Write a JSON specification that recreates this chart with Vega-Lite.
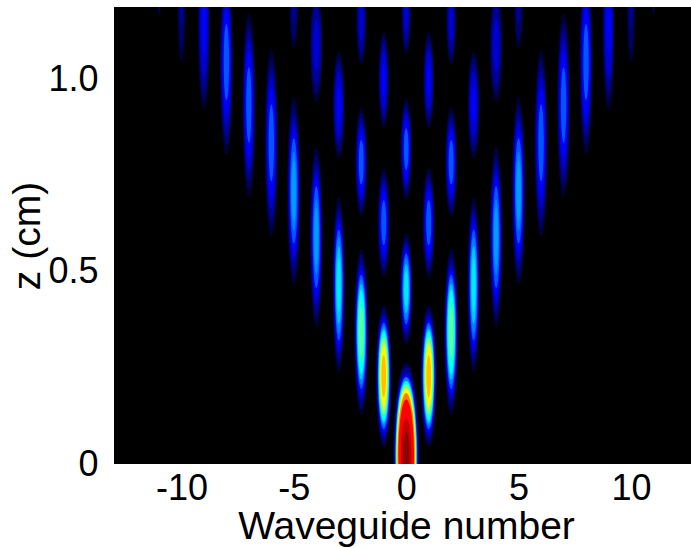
{"$schema":"https://vega.github.io/schema/vega-lite/v6.json","autosize":"none","width":577,"height":457,"padding":{"left":114,"top":7,"right":0,"bottom":84},"background":"white","view":{"fill":"black","stroke":null},
"data":{"values":[
{"w":0,"z":0.023,"i":0.03,"l":0.484,"s":"d"},{"w":0,"z":0.023,"i":0.06,"l":0.469,"s":"d"},{"w":0,"z":0.023,"i":0.1,"l":0.455,"s":"d"},{"w":0,"z":0.023,"i":0.2,"l":0.426,"s":"d"},{"w":0,"z":0.023,"i":0.3,"l":0.407,"s":"d"},{"w":0,"z":0.023,"i":0.4,"l":0.387,"s":"d"},{"w":0,"z":0.023,"i":0.5,"l":0.368,"s":"d"},{"w":0,"z":0.023,"i":0.6,"l":0.348,"s":"d"},{"w":0,"z":0.023,"i":0.7,"l":0.324,"s":"d"},{"w":0,"z":0.023,"i":0.8,"l":0.29,"s":"d"},{"w":0,"z":0.023,"i":0.9,"l":0.194,"s":"d"},{"w":0,"z":0.023,"i":1,"l":0.121,"s":"d"},
{"w":0,"z":0.456,"i":0.03,"l":0.292,"s":"a"},{"w":0,"z":0.456,"i":0.06,"l":0.269,"s":"a"},{"w":0,"z":0.456,"i":0.1,"l":0.248,"s":"a"},{"w":0,"z":0.456,"i":0.15,"l":0.228,"s":"a"},{"w":0,"z":0.456,"i":0.2,"l":0.204,"s":"a"},{"w":0,"z":0.456,"i":0.25,"l":0.184,"s":"a"},{"w":0,"z":0.456,"i":0.3,"l":0.161,"s":"a"},{"w":0,"z":0.456,"i":0.35,"l":0.128,"s":"a"},{"w":0,"z":0.456,"i":0.38,"l":0.091,"s":"a"},
{"w":0,"z":0.82,"i":0.03,"l":0.266,"s":"a"},{"w":0,"z":0.82,"i":0.06,"l":0.239,"s":"a"},{"w":0,"z":0.82,"i":0.1,"l":0.215,"s":"a"},{"w":0,"z":0.82,"i":0.15,"l":0.186,"s":"a"},{"w":0,"z":0.82,"i":0.2,"l":0.154,"s":"a"},{"w":0,"z":0.82,"i":0.25,"l":0.109,"s":"a"},
{"w":0,"z":1.177,"i":0.03,"l":0.221,"s":"a"},{"w":0,"z":1.177,"i":0.06,"l":0.192,"s":"a"},{"w":0,"z":1.177,"i":0.1,"l":0.159,"s":"a"},{"w":0,"z":1.177,"i":0.15,"l":0.102,"s":"a"},
{"w":-1,"z":0.229,"i":0.03,"l":0.37,"s":"a"},{"w":-1,"z":0.229,"i":0.06,"l":0.352,"s":"a"},{"w":-1,"z":0.229,"i":0.1,"l":0.329,"s":"a"},{"w":-1,"z":0.229,"i":0.15,"l":0.311,"s":"a"},{"w":-1,"z":0.229,"i":0.2,"l":0.292,"s":"a"},{"w":-1,"z":0.229,"i":0.25,"l":0.278,"s":"a"},{"w":-1,"z":0.229,"i":0.3,"l":0.263,"s":"a"},{"w":-1,"z":0.229,"i":0.35,"l":0.248,"s":"a"},{"w":-1,"z":0.229,"i":0.4,"l":0.233,"s":"a"},{"w":-1,"z":0.229,"i":0.45,"l":0.218,"s":"a"},{"w":-1,"z":0.229,"i":0.5,"l":0.2,"s":"a"},{"w":-1,"z":0.229,"i":0.55,"l":0.181,"s":"a"},{"w":-1,"z":0.229,"i":0.6,"l":0.155,"s":"a"},{"w":-1,"z":0.229,"i":0.65,"l":0.111,"s":"a"},
{"w":1,"z":0.229,"i":0.03,"l":0.37,"s":"a"},{"w":1,"z":0.229,"i":0.06,"l":0.352,"s":"a"},{"w":1,"z":0.229,"i":0.1,"l":0.329,"s":"a"},{"w":1,"z":0.229,"i":0.15,"l":0.311,"s":"a"},{"w":1,"z":0.229,"i":0.2,"l":0.292,"s":"a"},{"w":1,"z":0.229,"i":0.25,"l":0.278,"s":"a"},{"w":1,"z":0.229,"i":0.3,"l":0.263,"s":"a"},{"w":1,"z":0.229,"i":0.35,"l":0.248,"s":"a"},{"w":1,"z":0.229,"i":0.4,"l":0.233,"s":"a"},{"w":1,"z":0.229,"i":0.45,"l":0.218,"s":"a"},{"w":1,"z":0.229,"i":0.5,"l":0.2,"s":"a"},{"w":1,"z":0.229,"i":0.55,"l":0.181,"s":"a"},{"w":1,"z":0.229,"i":0.6,"l":0.155,"s":"a"},{"w":1,"z":0.229,"i":0.65,"l":0.111,"s":"a"},
{"w":-1,"z":0.628,"i":0.03,"l":0.286,"s":"a"},{"w":-1,"z":0.628,"i":0.06,"l":0.257,"s":"a"},{"w":-1,"z":0.628,"i":0.1,"l":0.232,"s":"a"},{"w":-1,"z":0.628,"i":0.15,"l":0.2,"s":"a"},{"w":-1,"z":0.628,"i":0.2,"l":0.166,"s":"a"},{"w":-1,"z":0.628,"i":0.25,"l":0.117,"s":"a"},
{"w":1,"z":0.628,"i":0.03,"l":0.286,"s":"a"},{"w":1,"z":0.628,"i":0.06,"l":0.257,"s":"a"},{"w":1,"z":0.628,"i":0.1,"l":0.232,"s":"a"},{"w":1,"z":0.628,"i":0.15,"l":0.2,"s":"a"},{"w":1,"z":0.628,"i":0.2,"l":0.166,"s":"a"},{"w":1,"z":0.628,"i":0.25,"l":0.117,"s":"a"},
{"w":-1,"z":1,"i":0.03,"l":0.25,"s":"a"},{"w":-1,"z":1,"i":0.06,"l":0.222,"s":"a"},{"w":-1,"z":1,"i":0.1,"l":0.193,"s":"a"},{"w":-1,"z":1,"i":0.15,"l":0.155,"s":"a"},{"w":-1,"z":1,"i":0.2,"l":0.085,"s":"a"},
{"w":1,"z":1,"i":0.03,"l":0.25,"s":"a"},{"w":1,"z":1,"i":0.06,"l":0.222,"s":"a"},{"w":1,"z":1,"i":0.1,"l":0.193,"s":"a"},{"w":1,"z":1,"i":0.15,"l":0.155,"s":"a"},{"w":1,"z":1,"i":0.2,"l":0.085,"s":"a"},
{"w":-2,"z":0.344,"i":0.03,"l":0.43,"s":"c"},{"w":-2,"z":0.344,"i":0.06,"l":0.404,"s":"c"},{"w":-2,"z":0.344,"i":0.1,"l":0.374,"s":"c"},{"w":-2,"z":0.344,"i":0.15,"l":0.348,"s":"c"},{"w":-2,"z":0.344,"i":0.2,"l":0.323,"s":"c"},{"w":-2,"z":0.344,"i":0.25,"l":0.297,"s":"c"},{"w":-2,"z":0.344,"i":0.3,"l":0.275,"s":"c"},{"w":-2,"z":0.344,"i":0.35,"l":0.249,"s":"c"},{"w":-2,"z":0.344,"i":0.4,"l":0.219,"s":"c"},{"w":-2,"z":0.344,"i":0.45,"l":0.176,"s":"c"},{"w":-2,"z":0.344,"i":0.48,"l":0.129,"s":"c"},
{"w":2,"z":0.344,"i":0.03,"l":0.43,"s":"c"},{"w":2,"z":0.344,"i":0.06,"l":0.404,"s":"c"},{"w":2,"z":0.344,"i":0.1,"l":0.374,"s":"c"},{"w":2,"z":0.344,"i":0.15,"l":0.348,"s":"c"},{"w":2,"z":0.344,"i":0.2,"l":0.323,"s":"c"},{"w":2,"z":0.344,"i":0.25,"l":0.297,"s":"c"},{"w":2,"z":0.344,"i":0.3,"l":0.275,"s":"c"},{"w":2,"z":0.344,"i":0.35,"l":0.249,"s":"c"},{"w":2,"z":0.344,"i":0.4,"l":0.219,"s":"c"},{"w":2,"z":0.344,"i":0.45,"l":0.176,"s":"c"},{"w":2,"z":0.344,"i":0.48,"l":0.129,"s":"c"},
{"w":-2,"z":0.786,"i":0.03,"l":0.284,"s":"a"},{"w":-2,"z":0.786,"i":0.06,"l":0.256,"s":"a"},{"w":-2,"z":0.786,"i":0.1,"l":0.23,"s":"a"},{"w":-2,"z":0.786,"i":0.15,"l":0.199,"s":"a"},{"w":-2,"z":0.786,"i":0.2,"l":0.165,"s":"a"},{"w":-2,"z":0.786,"i":0.25,"l":0.116,"s":"a"},
{"w":2,"z":0.786,"i":0.03,"l":0.284,"s":"a"},{"w":2,"z":0.786,"i":0.06,"l":0.256,"s":"a"},{"w":2,"z":0.786,"i":0.1,"l":0.23,"s":"a"},{"w":2,"z":0.786,"i":0.15,"l":0.199,"s":"a"},{"w":2,"z":0.786,"i":0.2,"l":0.165,"s":"a"},{"w":2,"z":0.786,"i":0.25,"l":0.116,"s":"a"},
{"w":-2,"z":1.156,"i":0.03,"l":0.234,"s":"a"},{"w":-2,"z":1.156,"i":0.06,"l":0.204,"s":"a"},{"w":-2,"z":1.156,"i":0.1,"l":0.168,"s":"a"},{"w":-2,"z":1.156,"i":0.15,"l":0.108,"s":"a"},
{"w":2,"z":1.156,"i":0.03,"l":0.234,"s":"a"},{"w":2,"z":1.156,"i":0.06,"l":0.204,"s":"a"},{"w":2,"z":1.156,"i":0.1,"l":0.168,"s":"a"},{"w":2,"z":1.156,"i":0.15,"l":0.108,"s":"a"},
{"w":-3,"z":0.466,"i":0.03,"l":0.458,"s":"b"},{"w":-3,"z":0.466,"i":0.06,"l":0.421,"s":"b"},{"w":-3,"z":0.466,"i":0.1,"l":0.389,"s":"b"},{"w":-3,"z":0.466,"i":0.15,"l":0.357,"s":"b"},{"w":-3,"z":0.466,"i":0.2,"l":0.321,"s":"b"},{"w":-3,"z":0.466,"i":0.25,"l":0.289,"s":"b"},{"w":-3,"z":0.466,"i":0.3,"l":0.252,"s":"b"},{"w":-3,"z":0.466,"i":0.35,"l":0.202,"s":"b"},{"w":-3,"z":0.466,"i":0.38,"l":0.142,"s":"b"},
{"w":3,"z":0.466,"i":0.03,"l":0.458,"s":"b"},{"w":3,"z":0.466,"i":0.06,"l":0.421,"s":"b"},{"w":3,"z":0.466,"i":0.1,"l":0.389,"s":"b"},{"w":3,"z":0.466,"i":0.15,"l":0.357,"s":"b"},{"w":3,"z":0.466,"i":0.2,"l":0.321,"s":"b"},{"w":3,"z":0.466,"i":0.25,"l":0.289,"s":"b"},{"w":3,"z":0.466,"i":0.3,"l":0.252,"s":"b"},{"w":3,"z":0.466,"i":0.35,"l":0.202,"s":"b"},{"w":3,"z":0.466,"i":0.38,"l":0.142,"s":"b"},
{"w":-3,"z":0.935,"i":0.03,"l":0.279,"s":"a"},{"w":-3,"z":0.935,"i":0.06,"l":0.248,"s":"a"},{"w":-3,"z":0.935,"i":0.1,"l":0.215,"s":"a"},{"w":-3,"z":0.935,"i":0.15,"l":0.173,"s":"a"},{"w":-3,"z":0.935,"i":0.2,"l":0.095,"s":"a"},
{"w":3,"z":0.935,"i":0.03,"l":0.279,"s":"a"},{"w":3,"z":0.935,"i":0.06,"l":0.248,"s":"a"},{"w":3,"z":0.935,"i":0.1,"l":0.215,"s":"a"},{"w":3,"z":0.935,"i":0.15,"l":0.173,"s":"a"},{"w":3,"z":0.935,"i":0.2,"l":0.095,"s":"a"},
{"w":-4,"z":0.591,"i":0.03,"l":0.471,"s":"b"},{"w":-4,"z":0.591,"i":0.06,"l":0.429,"s":"b"},{"w":-4,"z":0.591,"i":0.1,"l":0.391,"s":"b"},{"w":-4,"z":0.591,"i":0.15,"l":0.349,"s":"b"},{"w":-4,"z":0.591,"i":0.2,"l":0.311,"s":"b"},{"w":-4,"z":0.591,"i":0.25,"l":0.264,"s":"b"},{"w":-4,"z":0.591,"i":0.3,"l":0.198,"s":"b"},{"w":-4,"z":0.591,"i":0.32,"l":0.151,"s":"b"},
{"w":4,"z":0.591,"i":0.03,"l":0.471,"s":"b"},{"w":4,"z":0.591,"i":0.06,"l":0.429,"s":"b"},{"w":4,"z":0.591,"i":0.1,"l":0.391,"s":"b"},{"w":4,"z":0.591,"i":0.15,"l":0.349,"s":"b"},{"w":4,"z":0.591,"i":0.2,"l":0.311,"s":"b"},{"w":4,"z":0.591,"i":0.25,"l":0.264,"s":"b"},{"w":4,"z":0.591,"i":0.3,"l":0.198,"s":"b"},{"w":4,"z":0.591,"i":0.32,"l":0.151,"s":"b"},
{"w":-4,"z":1.089,"i":0.03,"l":0.294,"s":"a"},{"w":-4,"z":1.089,"i":0.06,"l":0.256,"s":"a"},{"w":-4,"z":1.089,"i":0.1,"l":0.212,"s":"a"},{"w":-4,"z":1.089,"i":0.15,"l":0.135,"s":"a"},
{"w":4,"z":1.089,"i":0.03,"l":0.294,"s":"a"},{"w":4,"z":1.089,"i":0.06,"l":0.256,"s":"a"},{"w":4,"z":1.089,"i":0.1,"l":0.212,"s":"a"},{"w":4,"z":1.089,"i":0.15,"l":0.135,"s":"a"},
{"w":-5,"z":0.711,"i":0.03,"l":0.49,"s":"b"},{"w":-5,"z":0.711,"i":0.06,"l":0.446,"s":"b"},{"w":-5,"z":0.711,"i":0.1,"l":0.407,"s":"b"},{"w":-5,"z":0.711,"i":0.15,"l":0.363,"s":"b"},{"w":-5,"z":0.711,"i":0.2,"l":0.323,"s":"b"},{"w":-5,"z":0.711,"i":0.25,"l":0.274,"s":"b"},{"w":-5,"z":0.711,"i":0.3,"l":0.206,"s":"b"},{"w":-5,"z":0.711,"i":0.32,"l":0.157,"s":"b"},
{"w":5,"z":0.711,"i":0.03,"l":0.49,"s":"b"},{"w":5,"z":0.711,"i":0.06,"l":0.446,"s":"b"},{"w":5,"z":0.711,"i":0.1,"l":0.407,"s":"b"},{"w":5,"z":0.711,"i":0.15,"l":0.363,"s":"b"},{"w":5,"z":0.711,"i":0.2,"l":0.323,"s":"b"},{"w":5,"z":0.711,"i":0.25,"l":0.274,"s":"b"},{"w":5,"z":0.711,"i":0.3,"l":0.206,"s":"b"},{"w":5,"z":0.711,"i":0.32,"l":0.157,"s":"b"},
{"w":-5,"z":1.185,"i":0.03,"l":0.203,"s":"a"},{"w":-5,"z":1.185,"i":0.06,"l":0.162,"s":"a"},{"w":-5,"z":1.185,"i":0.1,"l":0.077,"s":"a"},
{"w":5,"z":1.185,"i":0.03,"l":0.203,"s":"a"},{"w":5,"z":1.185,"i":0.06,"l":0.162,"s":"a"},{"w":5,"z":1.185,"i":0.1,"l":0.077,"s":"a"},
{"w":-6,"z":0.836,"i":0.03,"l":0.487,"s":"b"},{"w":-6,"z":0.836,"i":0.06,"l":0.438,"s":"b"},{"w":-6,"z":0.836,"i":0.1,"l":0.394,"s":"b"},{"w":-6,"z":0.836,"i":0.15,"l":0.341,"s":"b"},{"w":-6,"z":0.836,"i":0.2,"l":0.282,"s":"b"},{"w":-6,"z":0.836,"i":0.25,"l":0.2,"s":"b"},
{"w":6,"z":0.836,"i":0.03,"l":0.487,"s":"b"},{"w":6,"z":0.836,"i":0.06,"l":0.438,"s":"b"},{"w":6,"z":0.836,"i":0.1,"l":0.394,"s":"b"},{"w":6,"z":0.836,"i":0.15,"l":0.341,"s":"b"},{"w":6,"z":0.836,"i":0.2,"l":0.282,"s":"b"},{"w":6,"z":0.836,"i":0.25,"l":0.2,"s":"b"},
{"w":-7,"z":0.935,"i":0.03,"l":0.479,"s":"b"},{"w":-7,"z":0.935,"i":0.06,"l":0.431,"s":"b"},{"w":-7,"z":0.935,"i":0.1,"l":0.388,"s":"b"},{"w":-7,"z":0.935,"i":0.15,"l":0.335,"s":"b"},{"w":-7,"z":0.935,"i":0.2,"l":0.278,"s":"b"},{"w":-7,"z":0.935,"i":0.25,"l":0.196,"s":"b"},
{"w":7,"z":0.935,"i":0.03,"l":0.479,"s":"b"},{"w":7,"z":0.935,"i":0.06,"l":0.431,"s":"b"},{"w":7,"z":0.935,"i":0.1,"l":0.388,"s":"b"},{"w":7,"z":0.935,"i":0.15,"l":0.335,"s":"b"},{"w":7,"z":0.935,"i":0.2,"l":0.278,"s":"b"},{"w":7,"z":0.935,"i":0.25,"l":0.196,"s":"b"},
{"w":-8,"z":1.047,"i":0.03,"l":0.482,"s":"b"},{"w":-8,"z":1.047,"i":0.06,"l":0.434,"s":"b"},{"w":-8,"z":1.047,"i":0.1,"l":0.39,"s":"b"},{"w":-8,"z":1.047,"i":0.15,"l":0.337,"s":"b"},{"w":-8,"z":1.047,"i":0.2,"l":0.28,"s":"b"},{"w":-8,"z":1.047,"i":0.25,"l":0.198,"s":"b"},
{"w":8,"z":1.047,"i":0.03,"l":0.482,"s":"b"},{"w":8,"z":1.047,"i":0.06,"l":0.434,"s":"b"},{"w":8,"z":1.047,"i":0.1,"l":0.39,"s":"b"},{"w":8,"z":1.047,"i":0.15,"l":0.337,"s":"b"},{"w":8,"z":1.047,"i":0.2,"l":0.28,"s":"b"},{"w":8,"z":1.047,"i":0.25,"l":0.198,"s":"b"},
{"w":-9,"z":1.143,"i":0.03,"l":0.443,"s":"b"},{"w":-9,"z":1.143,"i":0.06,"l":0.394,"s":"b"},{"w":-9,"z":1.143,"i":0.1,"l":0.341,"s":"b"},{"w":-9,"z":1.143,"i":0.15,"l":0.275,"s":"b"},{"w":-9,"z":1.143,"i":0.2,"l":0.151,"s":"b"},
{"w":9,"z":1.143,"i":0.03,"l":0.443,"s":"b"},{"w":9,"z":1.143,"i":0.06,"l":0.394,"s":"b"},{"w":9,"z":1.143,"i":0.1,"l":0.341,"s":"b"},{"w":9,"z":1.143,"i":0.15,"l":0.275,"s":"b"},{"w":9,"z":1.143,"i":0.2,"l":0.151,"s":"b"},
{"w":-10,"z":1.193,"i":0.03,"l":0.294,"s":"b"},{"w":-10,"z":1.193,"i":0.06,"l":0.235,"s":"b"},{"w":-10,"z":1.193,"i":0.1,"l":0.112,"s":"b"},
{"w":10,"z":1.193,"i":0.03,"l":0.294,"s":"b"},{"w":10,"z":1.193,"i":0.06,"l":0.235,"s":"b"},{"w":10,"z":1.193,"i":0.1,"l":0.112,"s":"b"},
{"w":-11,"z":1.22,"i":0.03,"l":0.107,"s":"b"},{"w":-11,"z":1.22,"i":0.06,"l":0.086,"s":"b"},{"w":11,"z":1.22,"i":0.03,"l":0.107,"s":"b"},{"w":11,"z":1.22,"i":0.06,"l":0.086,"s":"b"}
]},
"mark":{"type":"point","filled":true,"opacity":1,"clip":true},
"encoding":{
"x":{"field":"w","type":"quantitative","scale":{"domain":[-13,12.67],"nice":false,"zero":false},"axis":{"values":[-10,-5,0,5,10],"labelExpr":"(datum.value<0?'-':'')+abs(datum.value)","grid":false,"domain":false,"ticks":false,"labelFont":"Liberation Sans","labelFontSize":36,"labelColor":"black","labelPadding":7,"labelFlush":false,"title":"Waveguide number","titleFont":"Liberation Sans","titleFontSize":39,"titleFontWeight":"normal","titleColor":"black","titlePadding":1,"titleX":292}},
"y":{"field":"z","type":"quantitative","scale":{"domain":[0,1.19],"nice":false},"axis":{"values":[0,0.5,1],"labelExpr":"datum.value==0?'0':format(datum.value,'.1f')","grid":false,"domain":false,"ticks":false,"labelFont":"Liberation Sans","labelFontSize":36,"labelColor":"black","labelPadding":16,"labelFlush":false,"title":"z (cm)","titleFont":"Liberation Sans","titleFontSize":39,"titleFontWeight":"normal","titleColor":"black","titlePadding":0}},
"size":{"field":"l","type":"quantitative","legend":null,"scale":{"type":"pow","exponent":2,"domain":[0,1],"range":[0,147456]}},
"color":{"field":"i","type":"quantitative","legend":null,"scale":{"domain":[0.03,0.06,0.1,0.15,0.2,0.3,0.4,0.5,0.6,0.7,0.8,0.9,1],"range":["#000038","#000066","#000098","#0000d0","#0000ff","#0080ff","#00ffff","#80ff80","#ffff00","#ff8000","#ff0000","#c00000","#900000"]}},
"shape":{"field":"s","type":"nominal","legend":null,"scale":{"domain":["a","b","c","d"],"range":["M0,-1C.061,-1 .11,-.55 .11,0C.11,.55 .061,1 0,1C-.061,1 -.11,.55 -.11,0C-.11,-.55 -.061,-1 0,-1Z","M0,-1C.039,-1 .07,-.55 .07,0C.07,.55 .039,1 0,1C-.039,1 -.07,.55 -.07,0C-.07,-.55 -.039,-1 0,-1Z","M0,-1C.047,-1 .085,-.55 .085,0C.085,.55 .047,1 0,1C-.047,1 -.085,.55 -.085,0C-.085,-.55 -.047,-1 0,-1Z","M0,-1C.077,-1 .14,-.55 .14,0C.14,.55 .077,1 0,1C-.077,1 -.14,.55 -.14,0C-.14,-.55 -.077,-1 0,-1Z"]}},
"order":{"field":"i","type":"quantitative"}
}}
